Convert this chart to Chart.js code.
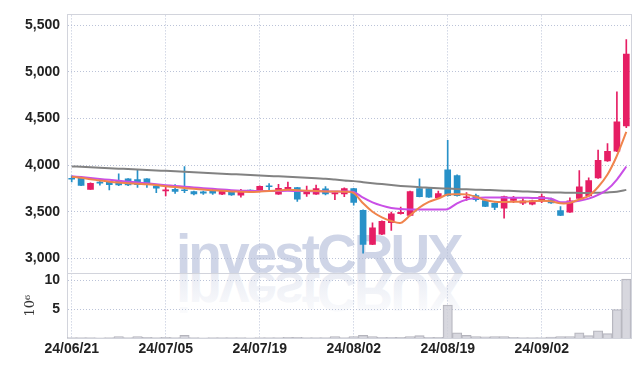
<!DOCTYPE html>
<html>
<head>
<meta charset="utf-8">
<script src="https://cdn.jsdelivr.net/npm/chart.js@4.4.1/dist/chart.umd.min.js"></script>
<style>
html,body{margin:0;padding:0;background:#fff;}
#wrap{position:relative;width:639px;height:366px;overflow:hidden;}
#wm{position:absolute;left:0;top:0;}
#c{position:absolute;left:0;top:0;}
</style>
</head>
<body>
<div id="wrap">
<svg id="wm" width="639" height="366" xmlns="http://www.w3.org/2000/svg">
  <defs>
    <linearGradient id="fade" x1="0" y1="0" x2="0" y2="1">
      <stop offset="0" stop-color="#e6e9f2" stop-opacity="0"/>
      <stop offset="0.55" stop-color="#e6e9f2" stop-opacity="0.6"/>
      <stop offset="1" stop-color="#e3e6f0" stop-opacity="1"/>
    </linearGradient>
  </defs>
  <text x="176" y="273" font-family="Liberation Sans, Arial, sans-serif" font-weight="bold" font-size="55" letter-spacing="-3" fill="#cfd5e7">investCRUX</text>
  <g transform="translate(0,546) scale(1,-1)">
    <text x="176" y="273" font-family="Liberation Sans, Arial, sans-serif" font-weight="bold" font-size="55" letter-spacing="-3" fill="url(#fade)">investCRUX</text>
  </g>
</svg>
<canvas id="c" width="639" height="366"></canvas>
</div>
<script>
const dates = ['24/06/21','24/06/24','24/06/25','24/06/26','24/06/27','24/06/28',
'24/07/01','24/07/02','24/07/03','24/07/04','24/07/05','24/07/08','24/07/09','24/07/10','24/07/11','24/07/12',
'24/07/15','24/07/16','24/07/17','24/07/18','24/07/19','24/07/22','24/07/23','24/07/24','24/07/25','24/07/26',
'24/07/29','24/07/30','24/07/31','24/08/01','24/08/02','24/08/05','24/08/06','24/08/07','24/08/08','24/08/09',
'24/08/12','24/08/13','24/08/14','24/08/16','24/08/19','24/08/20','24/08/21','24/08/22','24/08/23',
'24/08/26','24/08/27','24/08/28','24/08/29','24/08/30','24/09/02','24/09/03','24/09/04','24/09/05','24/09/06',
'24/09/09','24/09/10','24/09/11','24/09/12','24/09/13'];

const open  = [3855,3862,3740,3812,3820,3835,3852,3845,3852,3775,3722,3740,3732,3716,3714,3728,3688,3716,3677,3726,
               3716,3775,3688,3740,3758,3690,3688,3745,3690,3690,3748,3515,3150,3258,3382,3478,3460,3747,3748,3650,
               3950,3888,3650,3672,3620,3590,3537,3620,3592,3582,3612,3628,3512,3495,3642,3670,3863,4045,4150,4420];
const high  = [3885,3868,3810,3830,3825,3905,3856,3945,3856,3790,3778,3790,3985,3720,3722,3740,3725,3722,3740,3735,
               3778,3803,3793,3818,3762,3775,3786,3770,3710,3755,3752,3520,3380,3402,3495,3550,3720,3852,3750,3720,
               4265,3895,3705,3690,3622,3595,3668,3665,3640,3625,3688,3645,3555,3650,3940,3863,4160,4230,4785,5345];
const low   = [3820,3780,3738,3785,3735,3780,3778,3760,3760,3705,3670,3695,3705,3680,3685,3685,3682,3675,3655,3705,
               3712,3725,3685,3738,3610,3663,3685,3680,3628,3662,3570,3055,3148,3255,3300,3475,3455,3658,3652,3648,
               3668,3668,3620,3612,3555,3522,3432,3598,3575,3572,3598,3588,3458,3492,3638,3665,3858,4040,4145,4400];
const close = [3848,3782,3805,3806,3790,3788,3788,3790,3795,3752,3735,3718,3725,3690,3700,3700,3720,3680,3730,3720,
               3772,3768,3750,3762,3635,3730,3747,3690,3705,3747,3600,3150,3326,3398,3477,3493,3715,3662,3655,3695,
               3672,3672,3656,3630,3558,3547,3663,3645,3618,3618,3663,3595,3460,3618,3768,3835,4052,4148,4465,5190];

const ma5   = [3875,3863,3848,3835,3822,3812,3806,3800,3795,3786,3774,3764,3754,3745,3737,3730,3724,3718,3714,3712,
               3716,3722,3728,3735,3730,3726,3722,3718,3716,3714,3700,3590,3500,3440,3400,3380,3462,3545,3605,3642,
               3684,3688,3686,3660,3625,3608,3605,3606,3608,3612,3618,3612,3590,3595,3632,3670,3765,3898,4100,4355];
const ma20  = [3881,3871,3861,3851,3842,3832,3822,3813,3804,3795,3785,3777,3769,3760,3753,3745,3738,3731,3726,3723,
               3722,3722,3723,3724,3722,3721,3720,3719,3717,3716,3712,3650,3600,3565,3540,3528,3524,3523,3523,3523,
               3528,3590,3630,3645,3652,3653,3652,3650,3650,3648,3648,3640,3602,3605,3618,3640,3680,3740,3845,3985];
const ma120 = [3986,3982,3977,3972,3967,3962,3957,3952,3947,3942,3938,3933,3928,3923,3918,3913,3908,3903,3898,3893,
               3888,3883,3879,3874,3869,3864,3858,3853,3845,3836,3828,3817,3806,3796,3786,3777,3770,3762,3757,3752,
               3748,3744,3740,3736,3733,3730,3726,3722,3718,3714,3710,3707,3705,3703,3702,3702,3704,3707,3713,3734];

// volume in millions (axis unit 10^6)
const volume = [0.08,0.06,0.06,0.05,0.08,0.25,0.08,0.25,0.10,0.08,0.10,0.08,0.45,0.06,0.05,0.06,0.06,0.06,0.08,0.05,
                0.08,0.06,0.08,0.10,0.10,0.06,0.08,0.06,0.25,0.08,0.25,0.45,0.25,0.12,0.12,0.10,0.25,0.40,0.12,0.10,
                5.70,0.90,0.45,0.25,0.22,0.25,0.25,0.10,0.08,0.08,0.08,0.15,0.25,0.25,0.90,0.40,1.25,0.75,4.90,10.20];

const priceTicks = [3000, 3500, 4000, 4500, 5000, 5500];
const volumeTicks = [5, 10];

const UP = '#e61e64', DOWN = '#2891c8';
const GRID = 'rgba(180,188,212,0.9)';
const FRAME = '#d2d4dc';
const LABEL_FONT = "'Liberation Sans', Arial, sans-serif";

const candleColors = close.map((c, i) => c >= open[i] ? UP : DOWN);

const framePlugin = {
  id: 'frame',
  beforeDatasetsDraw(chart) {
    const {ctx, chartArea: a, scales} = chart;
    ctx.save();
    ctx.strokeStyle = FRAME;
    ctx.lineWidth = 1;
    ctx.strokeRect(Math.round(a.left) + 0.5, Math.round(a.top) - 0.5, Math.round(a.right - a.left), Math.round(a.bottom - a.top) + 1);
    const yv = Math.round(scales.v.top) + 0.5;
    ctx.beginPath();
    ctx.moveTo(a.left, yv);
    ctx.lineTo(a.right, yv);
    ctx.stroke();
    ctx.restore();
  }
};

const ctx = document.getElementById('c').getContext('2d');
new Chart(ctx, {
  type: 'bar',
  data: {
    labels: dates,
    datasets: [
      {type: 'line', label: 'MA5', data: ma5, yAxisID: 'y', borderColor: '#f0844c', borderWidth: 2, pointRadius: 0, tension: 0.3, order: 0},
      {type: 'line', label: 'MA20', data: ma20, yAxisID: 'y', borderColor: '#c94fe6', borderWidth: 2, pointRadius: 0, tension: 0.3, order: 0},
      {type: 'line', label: 'MA120', data: ma120, yAxisID: 'y', borderColor: '#828282', borderWidth: 2, pointRadius: 0, tension: 0.3, order: 0},
      {label: 'body', data: open.map((o, i) => [o, close[i]]), backgroundColor: candleColors, barThickness: 6, minBarLength: 1, yAxisID: 'y', grouped: false, order: 2},
      {label: 'wick', data: low.map((l, i) => [l, high[i]]), backgroundColor: candleColors, barThickness: 1, yAxisID: 'y', grouped: false, order: 3},
      {label: 'volume', data: volume, backgroundColor: 'rgba(208,208,216,0.85)', borderColor: '#b4b4bc', borderWidth: 1, yAxisID: 'v', grouped: false, barPercentage: 1, categoryPercentage: 1, order: 4}
    ]
  },
  options: {
    responsive: false,
    animation: false,
    events: [],
    layout: {padding: {top: 10, right: 8, left: 0, bottom: 0}},
    plugins: {legend: {display: false}, tooltip: {enabled: false}},
    scales: {
      x: {
        type: 'category',
        offset: true,
        grid: {offset: false, drawTicks: false, lineWidth: 1, color: c => (c.index % 10 === 0 ? GRID : 'rgba(0,0,0,0)')},
        border: {color: FRAME, dash: [1, 2]},
        ticks: {autoSkip: false, maxRotation: 0, minRotation: 0, padding: 3, color: '#222',
                font: {family: LABEL_FONT, size: 14, weight: 'bold'},
                callback: (v, i) => (i % 10 === 0 ? dates[i] : '')},
        afterFit: s => { s.height = 28; }
      },
      y: {
        position: 'left', stack: 'main', stackWeight: 262, weight: 2,
        min: 2842, max: 5605,
        grid: {drawTicks: false, color: GRID},
        border: {color: FRAME, dash: [1, 2]},
        afterBuildTicks: s => { s.ticks = priceTicks.map(v => ({value: v})); },
        ticks: {autoSkip: false, padding: 7, color: '#222',
                font: {family: LABEL_FONT, size: 14, weight: 'bold'},
                callback: v => v.toLocaleString('en-US')},
        afterFit: s => { s.width = 67; }
      },
      v: {
        position: 'left', stack: 'main', stackWeight: 66, weight: 1,
        min: 0, max: Math.max(...volume) * 1.1,
        grid: {drawTicks: false, color: GRID},
        border: {color: FRAME, dash: [1, 2]},
        afterBuildTicks: s => { s.ticks = volumeTicks.map(v => ({value: v})); },
        title: {display: true, text: '10\u2076', color: '#333', padding: {top: 23, bottom: 0},
                font: {family: "'DejaVu Serif', 'Liberation Serif', serif", size: 13}},
        ticks: {autoSkip: false, padding: 7, color: '#222',
                font: {family: LABEL_FONT, size: 14, weight: 'bold'},
                callback: v => String(v)},
        afterFit: s => { s.width = 67; }
      }
    }
  },
  plugins: [framePlugin]
});
</script>
</body>
</html>
